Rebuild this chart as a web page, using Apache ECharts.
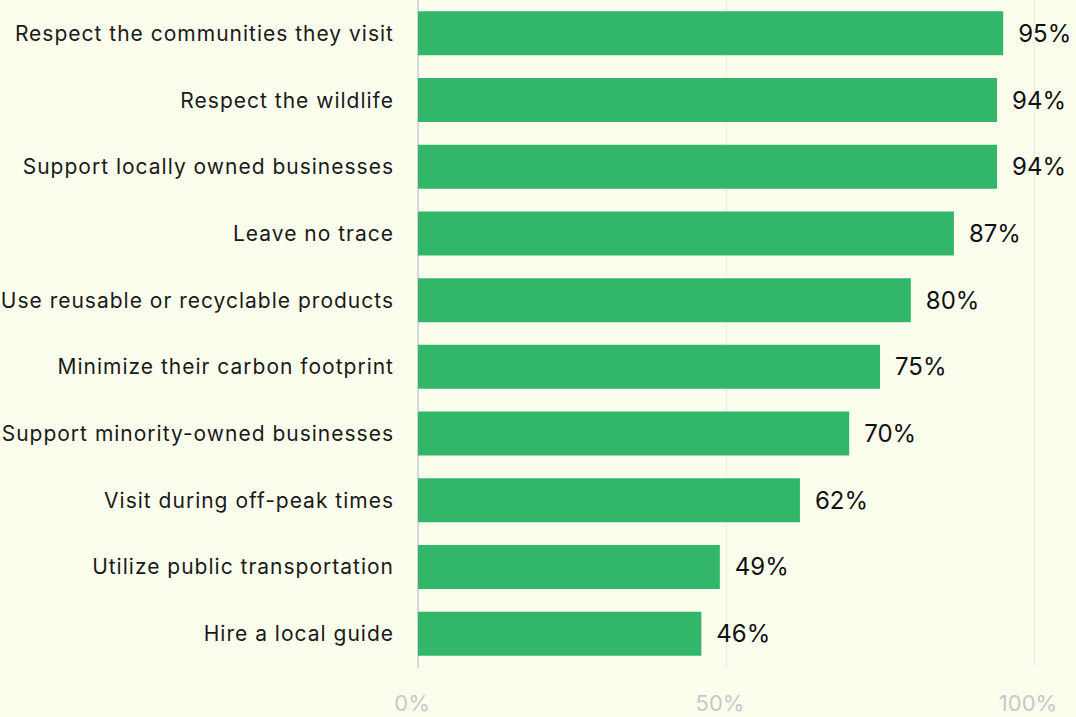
<!DOCTYPE html>
<html>
<head>
<meta charset="utf-8">
<script src="https://cdn.jsdelivr.net/npm/echarts@6/dist/echarts.min.js"></script>
<style>
  html, body { margin: 0; padding: 0; background: #fbfeec; }
  #chart { width: 1076px; height: 717px; }
  /* slightly open tracking on the category names */
  #chart text[style*="sans-serif"] { letter-spacing: 1px; }
</style>
</head>
<body>
<div id="chart"></div>
<script>
// Share of respondents saying travellers should do each action
const categories = [
  'Respect the communities they visit',
  'Respect the wildlife',
  'Support locally owned businesses',
  'Leave no trace',
  'Use reusable or recyclable products',
  'Minimize their carbon footprint',
  'Support minority-owned businesses',
  'Visit during off-peak times',
  'Utilize public transportation',
  'Hire a local guide'
];
const values = [95, 94, 94, 87, 80, 75, 70, 62, 49, 46];
const axisTicks = [0, 50, 100];

const FONT = 'Inter';
const LABEL_FONT = 'Inter, sans-serif';
const chart = echarts.init(document.getElementById('chart'), null, { renderer: 'svg' });
chart.setOption({
  backgroundColor: '#fbfeec',
  animation: false,
  grid: { left: 418, right: 42, top: 0, bottom: 50, containLabel: false },
  xAxis: {
    type: 'value',
    min: axisTicks[0],
    max: axisTicks[axisTicks.length - 1],
    interval: 50,
    axisLine: { show: false },
    axisTick: { show: false },
    splitLine: { show: true, lineStyle: { color: '#ebebe6', width: 1 } },
    axisLabel: {
      formatter: v => v + '%',
      color: '#c8c8c8',
      fontFamily: FONT,
      fontSize: 22,
      margin: 25,
      padding: [0, 12, 0, 0]
    }
  },
  yAxis: {
    type: 'category',
    data: categories,
    inverse: true,
    axisLine: { show: true, lineStyle: { color: '#d6d6d6', width: 2 } },
    axisTick: { show: false },
    axisLabel: {
      color: '#1a1a1a',
      fontFamily: LABEL_FONT,
      fontSize: 21,
      margin: 24,
      padding: [0, 0, 3, 0]
    }
  },
  series: [{
    type: 'bar',
    data: values,
    barCategoryGap: '34%',
    itemStyle: { color: '#32b76a' },
    label: {
      show: true,
      position: 'right',
      distance: 15,
      formatter: p => p.value + '%',
      color: '#111',
      fontFamily: FONT,
      fontSize: 24
    }
  }]
});
</script>
</body>
</html>
